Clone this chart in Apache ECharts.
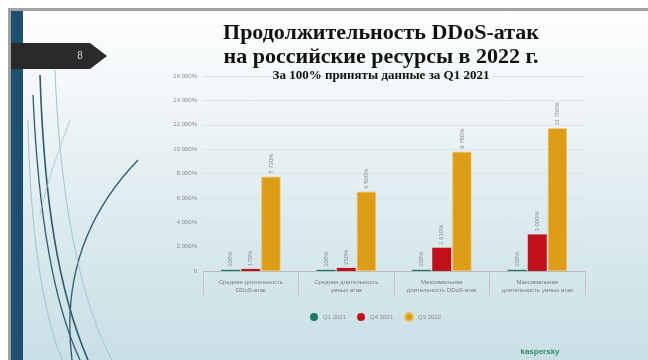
<!DOCTYPE html>
<html>
<head>
<meta charset="utf-8">
<script src="https://cdn.jsdelivr.net/npm/echarts@6/dist/echarts.min.js"></script>
<style>
html,body{margin:0;padding:0;background:#ffffff;}
#slide{position:absolute;left:0;top:0;width:648px;height:360px;background:#fff;}
#frame{position:absolute;left:8px;top:8px;width:640px;height:352px;border-top:3px solid #a3a3a3;border-left:3px solid #a3a3a3;box-sizing:border-box;
background:linear-gradient(to bottom,#fdfefe 0%,#f1f6f8 25%,#dcebef 60%,#c9dfe6 100%);}
#chart{position:absolute;left:0;top:0;width:648px;height:360px;}
</style>
</head>
<body>
<div id="slide"><div id="frame"></div></div>
<div id="chart"></div>
<script>
var categories = [
  'Средняя длительность\nDDoS-атак',
  'Средняя длительность\nумных атак',
  'Максимальная\nдлительность DDoS-атак',
  'Максимальная\nдлительность умных атак'
];
var seriesNames = ['Q1 2021', 'Q4 2021', 'Q3 2022'];
var q1_2021 = [100, 100, 100, 100];
var q4_2021 = [170, 250, 1910, 3000];
var q3_2022 = [7730, 6500, 9780, 11700];
var yTicks = [0, 2000, 4000, 6000, 8000, 10000, 12000, 14000, 16000];
var colors = ['#1f7a63', '#c0101c', '#dc9c16'];

function fmt(v){
  if (v === 0) return '0';
  var s = String(Math.round(v));
  s = s.replace(/\B(?=(\d{3})+(?!\d))/g, ' ');
  return s + '%';
}

var chart = echarts.init(document.getElementById('chart'), null, {renderer:'canvas'});

var dark = '#2b5a6c';
var light = '#9fc3cf';
var graphics = [
  {type:'rect', shape:{x:11,y:11,width:12,height:349}, style:{fill:'#1f4f6e'}, z:1},
  {type:'polygon', shape:{points:[[11,43],[90,43],[107,56],[90,69],[11,69]]}, style:{fill:'#2a2a2a'}, z:2},
  {type:'text', x:80, y:56, style:{text:'8', fill:'#cfcfcf', fontSize:10, fontFamily:'Arial', textAlign:'center', textVerticalAlign:'middle'}, z:3},
  {type:'bezierCurve', shape:{x1:40,y1:75,cpx1:44,cpy1:200,cpx2:58,cpy2:290,x2:88,y2:360}, style:{stroke:dark,lineWidth:1.6,fill:null}, z:1},
  {type:'bezierCurve', shape:{x1:33,y1:95,cpx1:38,cpy1:210,cpx2:52,cpy2:300,x2:80,y2:360}, style:{stroke:dark,lineWidth:1.3,fill:null}, z:1},
  {type:'bezierCurve', shape:{x1:138,y1:160,cpx1:85,cpy1:215,cpx2:62,cpy2:280,x2:72,y2:360}, style:{stroke:dark,lineWidth:1.3,fill:null}, z:1},
  {type:'bezierCurve', shape:{x1:55,y1:70,cpx1:60,cpy1:200,cpx2:80,cpy2:300,x2:112,y2:360}, style:{stroke:light,lineWidth:1,fill:null}, z:1},
  {type:'bezierCurve', shape:{x1:28,y1:120,cpx1:30,cpy1:230,cpx2:42,cpy2:310,x2:62,y2:360}, style:{stroke:light,lineWidth:1,fill:null}, z:1},
  {type:'bezierCurve', shape:{x1:70,y1:120,cpx1:55,cpy1:160,cpx2:45,cpy2:190,x2:40,y2:215}, style:{stroke:light,lineWidth:0.8,fill:null}, z:1},
  {type:'text', x:540, y:352, style:{text:'kaspersky', fill:'#2f8f5c', fontSize:8, fontFamily:'Arial', fontWeight:'bold', textAlign:'center', textVerticalAlign:'middle'}, z:3}
];

var option = {
  animation: false,
  backgroundColor: 'transparent',
  color: colors,
  title: {
    text: 'Продолжительность DDoS-атак\nна российские ресурсы в 2022 г.',
    subtext: 'За 100% приняты данные за Q1 2021',
    left: 376, top: 16, textAlign: 'center', itemGap: 0,
    textStyle: {fontFamily:'Liberation Serif', fontSize:22, fontWeight:'bold', color:'#111', lineHeight:24},
    subtextStyle: {fontFamily:'Liberation Serif', fontSize:13, fontWeight:'bold', color:'#111', lineHeight:14}
  },
  graphic: graphics,
  legend: {
    data: seriesNames,
    left: 305, top: 307,
    icon: 'circle', itemWidth: 8, itemHeight: 8, itemGap: 11,
    textStyle: {fontSize: 6, color: '#8a8a8a', fontFamily: 'Arial'}
  },
  grid: {left: 203, right: 63, top: 76, bottom: 89, containLabel: false},
  xAxis: {
    type: 'category', data: categories,
    axisLine: {lineStyle: {color: '#b8b8b8', width: 1}},
    axisTick: {show: true, length: 24, lineStyle: {color: '#c4c4c4'}},
    axisLabel: {interval: 0, fontSize: 6, color: '#7a7a7a', lineHeight: 8, margin: 7, fontFamily: 'Arial'}
  },
  yAxis: {
    type: 'value', min: 0, max: 16000, interval: 2000,
    axisLine: {show: false}, axisTick: {show: false},
    splitLine: {lineStyle: {color: '#dfe3e5', width: 1}},
    axisLabel: {fontSize: 6, color: '#8a8a8a', margin: 6, fontFamily: 'Arial', formatter: function(v){ return fmt(v); }}
  },
  series: [
    {name: seriesNames[0], type: 'bar', data: q1_2021, barWidth: 19, barGap: '6%',
     label: {show: true, position: 'top', rotate: 90, align: 'left', verticalAlign: 'middle', distance: 3, fontSize: 6, color: '#8a8a8a', formatter: function(p){return fmt(p.value);}}},
    {name: seriesNames[1], type: 'bar', data: q4_2021, barWidth: 19, barGap: '6%',
     label: {show: true, position: 'top', rotate: 90, align: 'left', verticalAlign: 'middle', distance: 3, fontSize: 6, color: '#8a8a8a', formatter: function(p){return fmt(p.value);}}},
    {name: seriesNames[2], type: 'bar', data: q3_2022, barWidth: 19, barGap: '6%',
     itemStyle: {borderColor: '#efbe5c', borderWidth: 0.8},
     label: {show: true, position: 'top', rotate: 90, align: 'left', verticalAlign: 'middle', distance: 3, fontSize: 6, color: '#8a8a8a', formatter: function(p){return fmt(p.value);}}}
  ]
};
chart.setOption(option);
</script>
</body>
</html>
